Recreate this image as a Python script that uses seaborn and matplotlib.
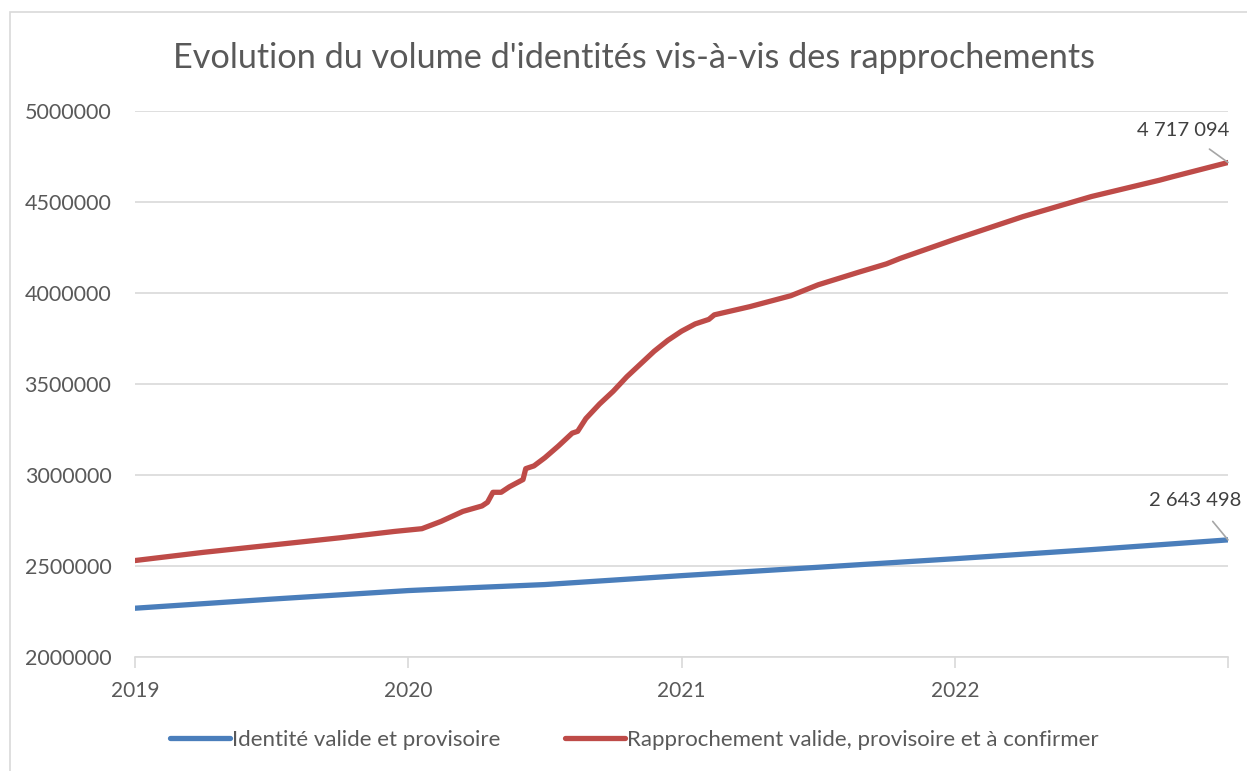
import matplotlib
matplotlib.use("Agg")
import matplotlib.pyplot as plt
import seaborn as sns
import pandas as pd
from matplotlib.patches import Rectangle
from matplotlib.lines import Line2D

# ---- data ----
title = "Evolution du volume d'identités vis-à-vis des rapprochements"
series_blue = "Identité valide et provisoire"
series_red = "Rapprochement valide, provisoire et à confirmer"

blue_x = [2019.00, 2019.50, 2020.00, 2020.25, 2020.50, 2021.00, 2021.50, 2022.00, 2022.50, 2023.00]
blue_y = [2268000, 2318000, 2365000, 2382000, 2398000, 2447000, 2493000, 2540000, 2590000, 2643498]

red_x = [2019.00, 2019.25, 2019.50, 2019.75, 2019.95, 2020.05, 2020.12, 2020.20, 2020.27, 2020.29,
         2020.31, 2020.34, 2020.37, 2020.42, 2020.43, 2020.46, 2020.50, 2020.55, 2020.60, 2020.62,
         2020.65, 2020.70, 2020.75, 2020.80, 2020.85, 2020.90, 2020.95, 2021.00, 2021.05, 2021.10,
         2021.12, 2021.25, 2021.40, 2021.50, 2021.65, 2021.75, 2021.80, 2022.00, 2022.25, 2022.50,
         2022.75, 2022.80, 2023.00]
red_y = [2530000, 2575000, 2615000, 2655000, 2690000, 2705000, 2745000, 2800000, 2830000, 2850000,
         2905000, 2905000, 2935000, 2975000, 3035000, 3050000, 3095000, 3160000, 3230000, 3240000,
         3310000, 3390000, 3460000, 3540000, 3610000, 3680000, 3740000, 3790000, 3830000, 3855000,
         3880000, 3925000, 3985000, 4045000, 4115000, 4160000, 4190000, 4295000, 4420000, 4530000,
         4620000, 4640000, 4717094]

x_ticks = [2019, 2020, 2021, 2022, 2023]
x_labels = ["2019", "2020", "2021", "2022", ""]
y_ticks = [2000000, 2500000, 3000000, 3500000, 4000000, 4500000, 5000000]
end_labels = ["2 643 498", "4 717 094"]

df = pd.concat([
    pd.DataFrame({"x": blue_x, "y": blue_y, "s": series_blue}),
    pd.DataFrame({"x": red_x, "y": red_y, "s": series_red}),
])

sns.set_theme(style="white")
plt.rcParams["font.family"] = ["Lato", "DejaVu Sans"]

W, H = 1247, 771
fig = plt.figure(figsize=(W / 100, H / 100), dpi=100)
ax = fig.add_axes([135 / W, 1 - 657 / H, (1228 - 135) / W, (657 - 111) / H])

blue = "#4A7EBB"
red = "#BE4B48"
sns.lineplot(data=df, x="x", y="y", hue="s", palette={series_blue: blue, series_red: red},
             linewidth=3.8, ax=ax, legend=False, solid_capstyle="round")

ax.set_xlim(2019, 2023)
ax.set_ylim(2000000, 5000000)
ax.set_yticks(y_ticks)
ax.set_yticklabels([str(v) for v in y_ticks])
ax.set_xticks(x_ticks)
ax.set_xticklabels(x_labels)
ax.set_xlabel("")
ax.set_ylabel("")
ax.grid(axis="y", color="#D9D9D9", linewidth=1.2)
ax.set_axisbelow(True)
for side in ["left", "right", "top"]:
    ax.spines[side].set_visible(False)
ax.spines["bottom"].set_color("#D9D9D9")
ax.spines["bottom"].set_linewidth(1.2)
ax.tick_params(axis="x", direction="out", length=8, width=1.2, color="#D9D9D9",
               labelsize=15, labelcolor="#595959", pad=9, bottom=True)
ax.tick_params(axis="y", length=0, labelsize=15.5, labelcolor="#595959", pad=17)

fig.text((172 + 1096) / 2 / W, 1 - 58 / H, title, ha="center", va="center",
         fontsize=24.7, color="#595959")

# data labels with leader lines
ax.annotate(end_labels[1], xy=(red_x[-1], red_y[-1]),
            xytext=(1183 / W, 1 - 130 / H), textcoords="figure fraction",
            ha="center", va="center", fontsize=14.6, color="#404040",
            arrowprops=dict(arrowstyle="-", color="#A6A6A6", lw=1.2, shrinkA=9, shrinkB=0),
            annotation_clip=False)
ax.annotate(end_labels[0], xy=(blue_x[-1], blue_y[-1]),
            xytext=(1195 / W, 1 - 500 / H), textcoords="figure fraction",
            ha="center", va="center", fontsize=14.6, color="#404040",
            arrowprops=dict(arrowstyle="-", color="#A6A6A6", lw=1.2, shrinkA=9, shrinkB=0),
            annotation_clip=False)

# legend
handles = [Line2D([], [], color=blue, lw=3.8, solid_capstyle="round"),
           Line2D([], [], color=red, lw=3.8, solid_capstyle="round")]
fig.legend(handles, [series_blue, series_red], loc="center", bbox_to_anchor=(634.5 / W, 1 - 740 / H),
           ncol=2, frameon=False, fontsize=16, labelcolor="#595959", handlelength=2.7,
           handletextpad=0.1, columnspacing=2.9)

# chart border
fig.patches.append(Rectangle((10 / W, -0.1), 1.2, 1 - 12 / H + 0.1, transform=fig.transFigure,
                             fill=False, edgecolor="#D9D9D9", linewidth=1.2))

fig.savefig("out.png", dpi=100, facecolor="white")
